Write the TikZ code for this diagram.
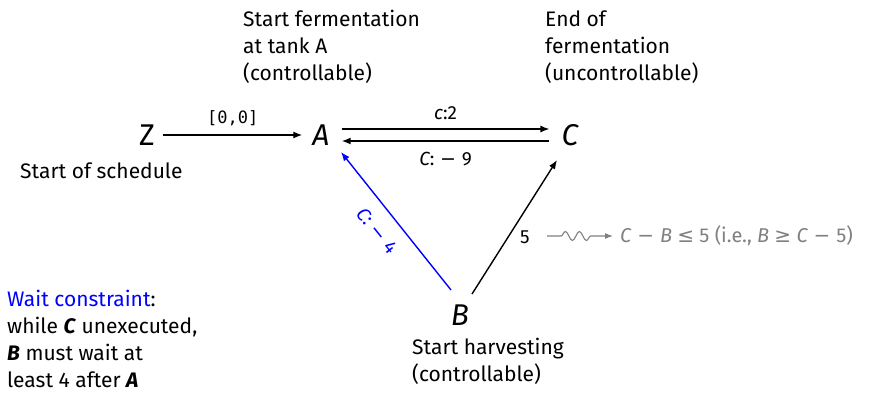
\documentclass[tikz,border=0pt]{standalone}
\usepackage{fontspec}
\setmainfont{Fira Sans}
\newfontfamily\symf{DejaVu Sans}
\newfontfamily\monof{DejaVu Sans Mono}
\usetikzlibrary{arrows.meta,decorations.pathmorphing}
\definecolor{txtgray}{RGB}{128,128,128}
\newcommand{\mminus}{\hspace{0.3em}{\symf −}\hspace{0.3em}}
\tikzset{
  vtx/.style={inner sep=0pt, font=\fontsize{30}{32}\selectfont},
  desc/.style={inner sep=0pt, anchor=base west, align=left, font=\fontsize{21}{26.7}\selectfont},
  elab/.style={inner sep=0pt, font=\fontsize{19}{22}\selectfont},
  arr/.style={line width=1.4pt, -{Latex[length=9pt,width=7pt]}},
  barr/.style={arr, blue},
  squig/.style={txtgray, line width=1.1pt, -{Latex[length=8pt,width=6pt]},
    decorate, decoration={snake, amplitude=4.5pt, segment length=14pt, pre length=14pt, post length=16pt}}
}
\begin{document}
\begin{tikzpicture}[x=1pt,y=-1pt]
\useasboundingbox (0,0) rectangle (870,392);
% vertices
\node[vtx] (Z) at (147,135) {Z};
\node[vtx] (A) at (321,135) {\itshape A};
\node[vtx] (C) at (570,135) {\itshape C};
\node[vtx] (B) at (460,315) {\itshape B};
% descriptions (anchored at the baseline of their last line)
\node[desc] (dA) at (243,80) {Start fermentation\\at tank A\\(controllable)};
\node[desc] (dC) at (545,80) {End of\\fermentation\\(uncontrollable)};
\node[desc] (dZ) at (20,178) {Start of schedule};
\node[desc] (dB) at (412,381) {Start harvesting\\(controllable)};
\node[desc] (wait) at (7,387) {{\color{blue}Wait constraint}:\\while \textbf{\itshape C} unexecuted,\\\textbf{\itshape B} must wait at\\least 4 after \textbf{\itshape A}};
% edges
\draw[arr] ([xshift=8pt]Z.east) -- ([xshift=-10pt]A.west)
  node[midway, above=8pt, inner sep=0pt, font=\monof\fontsize{17}{19}\selectfont] (l0) {[0,0]};
\draw[arr] ([xshift=12pt,yshift=6pt]A.east) -- ([xshift=-12pt,yshift=6pt]C.west)
  node[midway, above=9pt, elab] (l1) {\itshape c\upshape:2};
\draw[arr] ([xshift=-12pt,yshift=-6pt]C.west) -- ([xshift=12pt,yshift=-6pt]A.east)
  node[midway, below=10pt, elab] (l2) {\itshape C\upshape:\mminus 9};
\coordinate (b1) at ([shift={(-9,-25)}]B.center);
\coordinate (a1) at ([shift={(20,17)}]A.center);
\draw[barr] (b1) -- (a1);
\node[elab, blue, rotate=-51] (l3) at (377,231) {\itshape C\upshape:\mminus 4};
\coordinate (b2) at ([shift={(12,-21)}]B.center);
\coordinate (c2) at ([shift={(-13,25)}]C.center);
\draw[arr] (b2) -- (c2);
\node[elab] (l4) at (525,237) {5};
\coordinate (s1) at (547,236);
\node[inner sep=0pt, anchor=west, txtgray, font=\fontsize{20}{24}\selectfont] (cons) at (620,236)
  {\itshape C\upshape\mminus\itshape B\upshape{} {\symf ≤} 5 (i.e., \itshape B\upshape{} {\symf ≥} \itshape C\upshape\mminus 5)};
\draw[squig] (s1) -- ([xshift=-7pt]cons.west);
\end{tikzpicture}
\end{document}
